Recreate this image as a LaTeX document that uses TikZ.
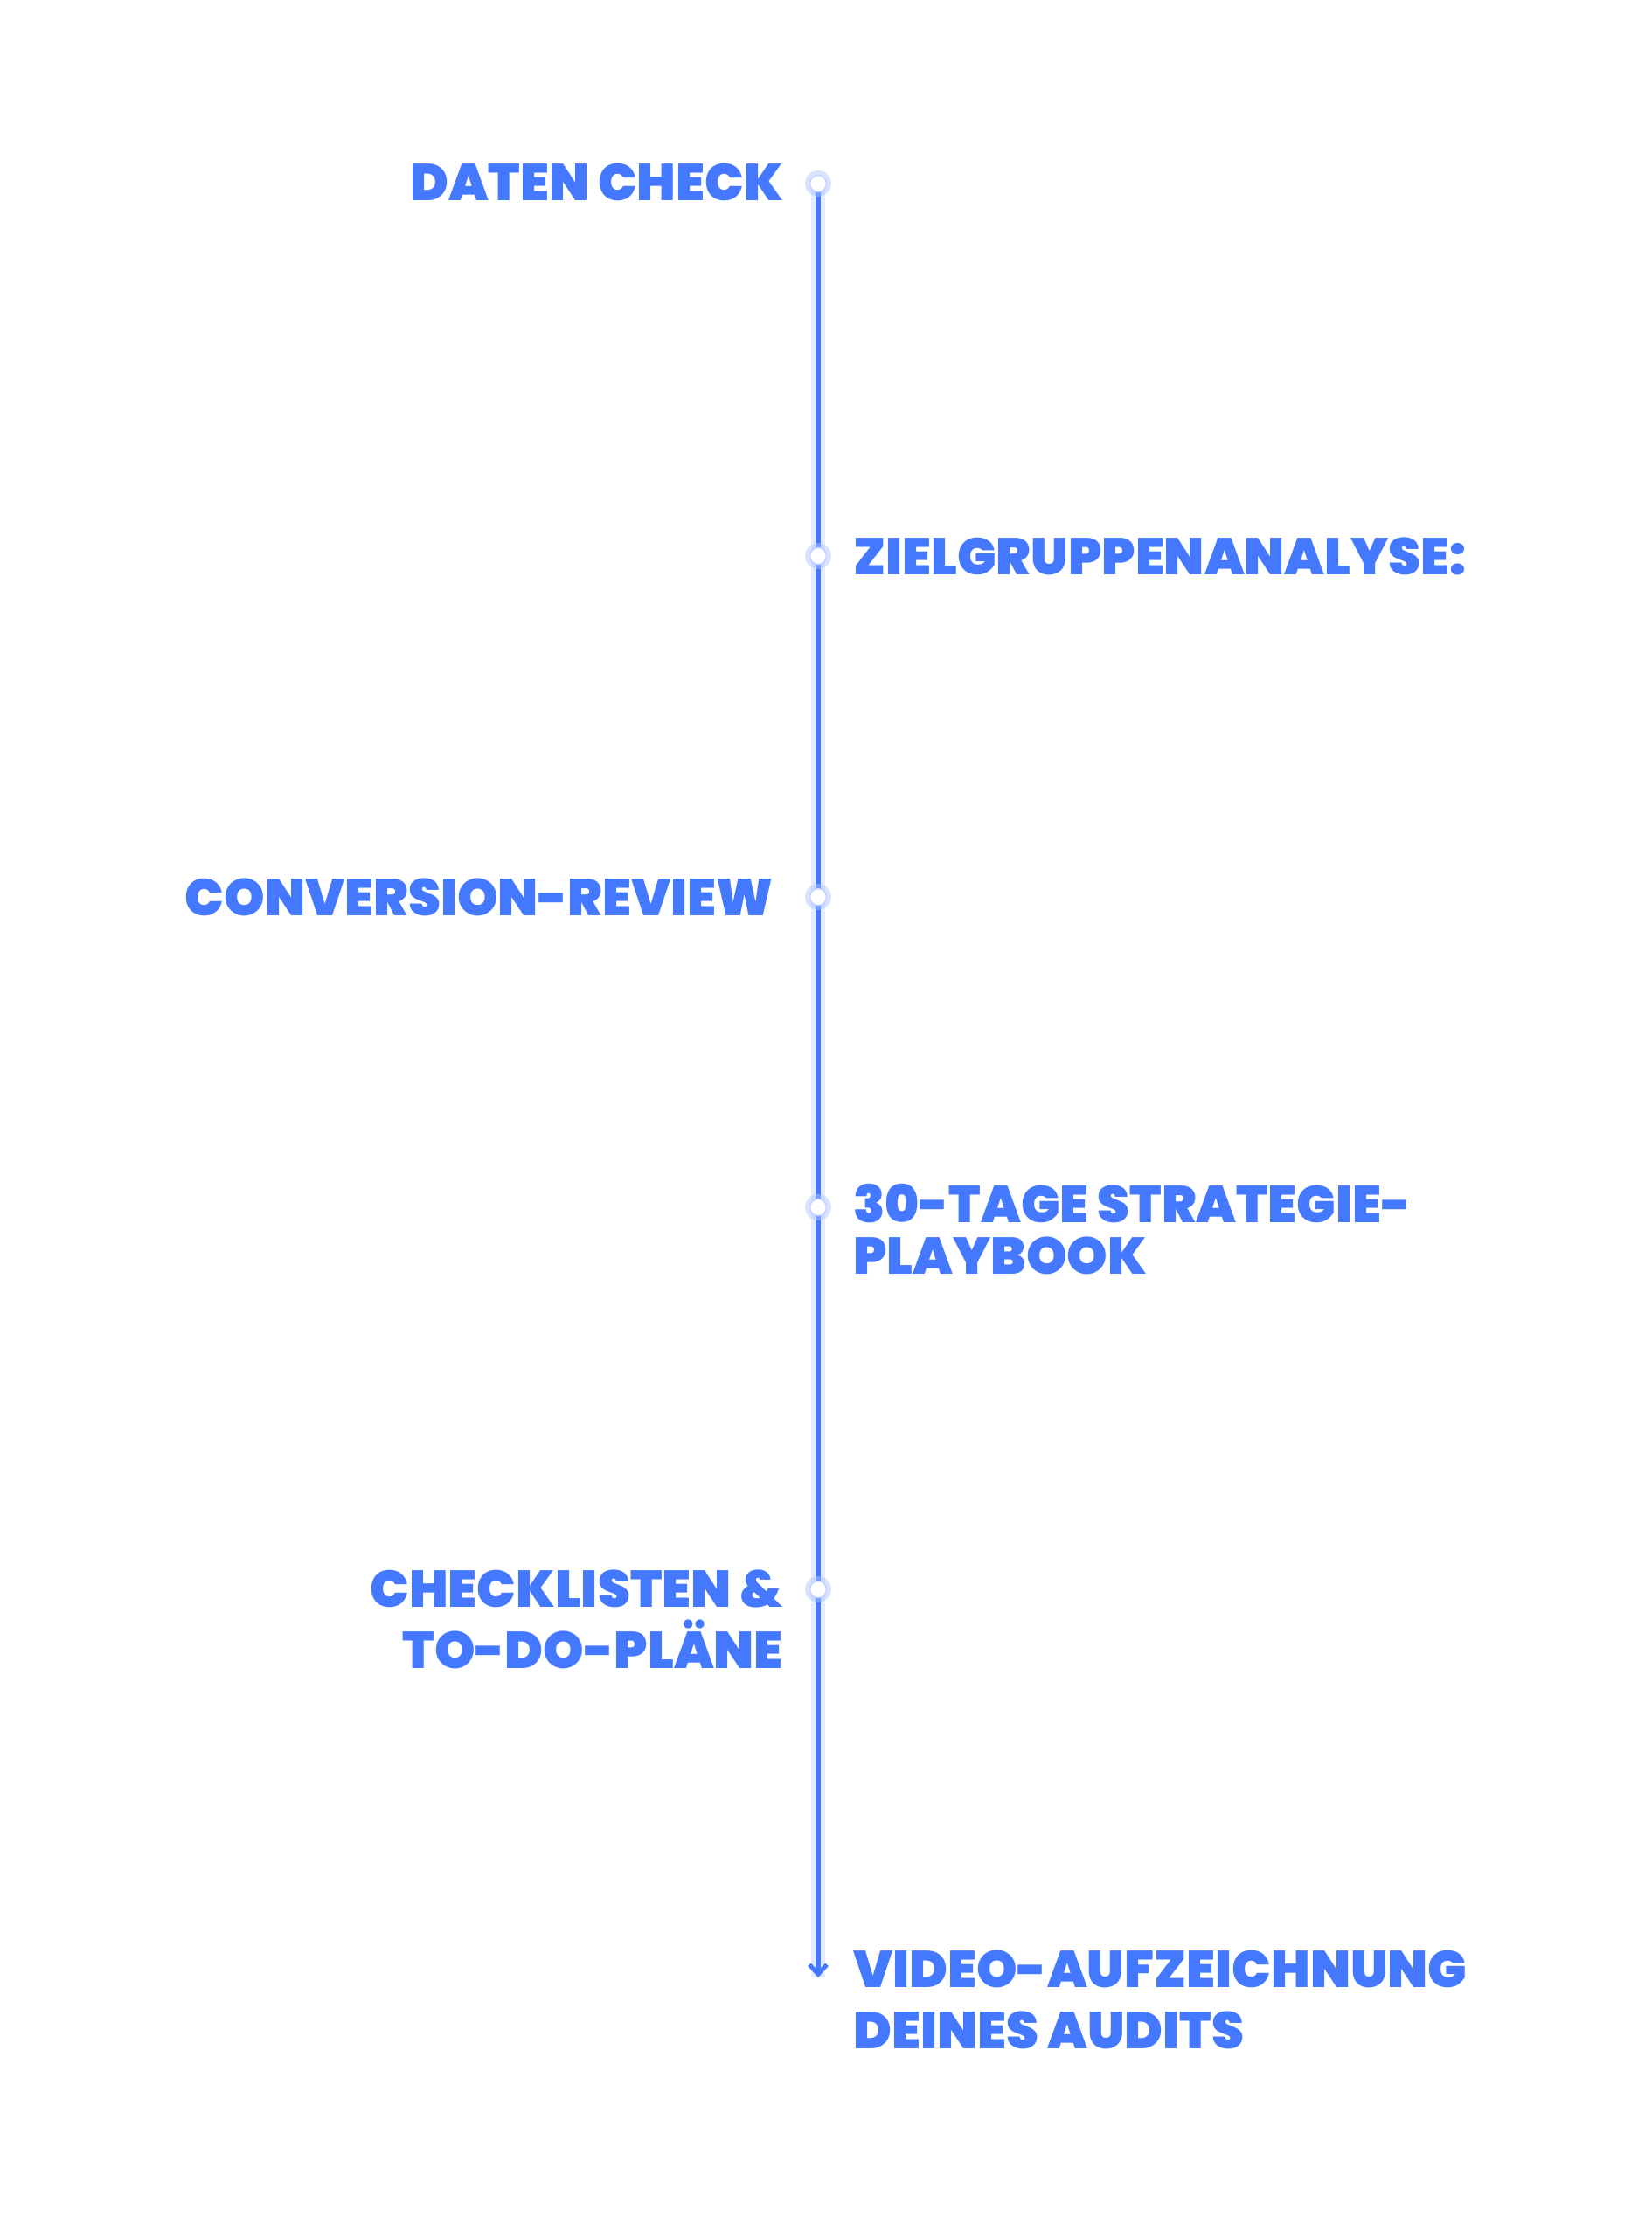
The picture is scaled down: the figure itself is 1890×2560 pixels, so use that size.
\documentclass[tikz,border=0pt]{standalone}
\usepackage{fontspec}
\newfontfamily\pop{Poppins Black}
\usetikzlibrary{arrows.meta}
\definecolor{tblue}{RGB}{68,121,255}
\definecolor{glow}{RGB}{170,195,255}
\tikzset{
  lbl/.style={inner sep=0pt, text=tblue, font=\pop\fontsize{59.2}{70}\selectfont},
  dotglow/.style={circle, fill=glow, opacity=0.45, minimum size=30pt, inner sep=0pt},
  dotnode/.style={circle, fill=white, minimum size=19pt, inner sep=0pt, draw=glow!70, line width=1.5pt},
  tline/.style={draw=tblue, line width=5.5pt},
  tglow/.style={draw=glow, line width=16pt, opacity=0.3},
}
\begin{document}
\begin{tikzpicture}[x=1pt,y=-1pt]
\useasboundingbox (0,0) rectangle (1890,2560);
\fill[white] (0,0) rectangle (1890,2560);
% axis points
\coordinate (p1) at (936,210);
\coordinate (p2) at (936,636);
\coordinate (p3) at (936,1026);
\coordinate (p4) at (936,1381);
\coordinate (p5) at (936,1818);
\coordinate (pend) at (936,2262);
% glow and line
\draw[tglow] (p1) -- (pend);
\draw[tline, -{Straight Barb[length=11pt,width=20pt,line width=5pt]}] (p1) -- (pend);
% dots
\foreach \p in {p1,p2,p3,p4,p5} \node[dotglow] (glow\p) at (\p) {};
\foreach \p in {p1,p2,p3,p4,p5} \node[dotnode] (dot\p) at (\p) {};
% labels
\node[lbl, anchor=base east] (t1) at (896,229) {DATEN CHECK};
\node[lbl, anchor=base west] (t2) at (976,657) {ZIELGRUPPENANALYSE:};
\node[lbl, anchor=base east] (t3) at (885,1047) {CONVERSION-REVIEW};
\node[lbl, anchor=base west, align=left, font=\pop\fontsize{59.2}{59}\selectfont] (t4) at (976,1457) {30-TAGE STRATEGIE-\\PLAYBOOK};
\node[lbl, anchor=base east, align=right] (t5) at (896,1908) {CHECKLISTEN \&\\TO-DO-PLÄNE};
\node[lbl, anchor=base west, align=left] (t6) at (976,2343) {VIDEO-AUFZEICHNUNG\\DEINES AUDITS};
\end{tikzpicture}
\end{document}
